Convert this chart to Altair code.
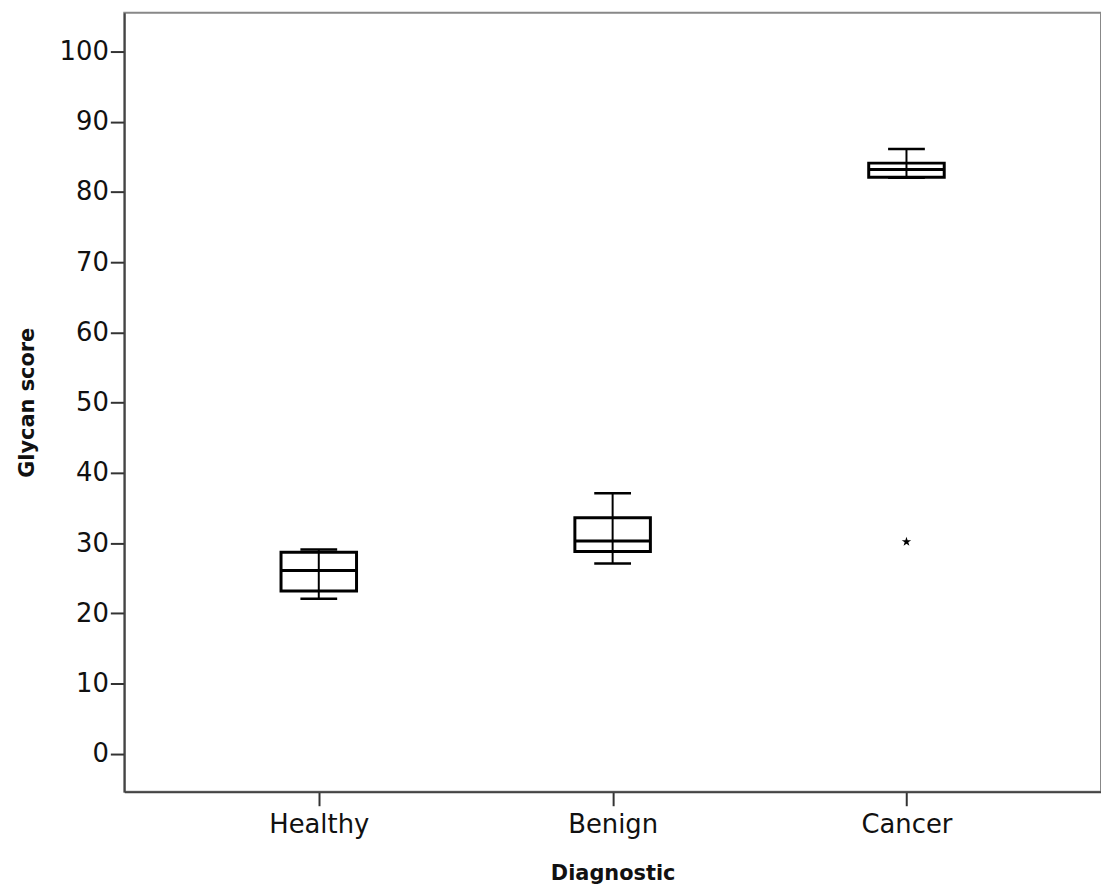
import altair as alt
import pandas as pd

categories = ["Healthy", "Benign", "Cancer"]
whisker_low = [22.1, 27.1, 82.0]
q1 = [23.2, 28.8, 82.1]
median = [26.1, 30.3, 83.2]
q3 = [28.7, 33.6, 84.1]
whisker_high = [29.1, 37.1, 86.1]

outlier_cat = ["Cancer"]
outlier_val = [30.2]

df = pd.DataFrame({
    "Diagnostic": categories,
    "lo": whisker_low,
    "q1": q1,
    "med": median,
    "q3": q3,
    "hi": whisker_high,
})
out = pd.DataFrame({"Diagnostic": outlier_cat, "val": outlier_val})

FONT = "DejaVu Sans"
STAR = ("M0,-1L0.2245,-0.309L0.951,-0.309L0.363,0.118L0.588,0.809L0,0.382"
        "L-0.588,0.809L-0.363,0.118L-0.951,-0.309L-0.2245,-0.309Z")

xscale = alt.Scale(type="point", padding=0.662, domain=categories)
xenc = alt.X(
    "Diagnostic:N",
    scale=xscale,
    axis=alt.Axis(title="Diagnostic", labelAngle=0, tickSize=14, labelPadding=6, titlePadding=25),
)
yscale = alt.Scale(domain=[-5.4, 105.5], nice=False, zero=False)
yaxis = alt.Axis(title="Glycan score", values=list(range(0, 101, 10)), tickSize=14,
                 labelPadding=2, titlePadding=22, grid=False)

base = alt.Chart(df).encode(x=xenc)

whisk = base.mark_rule(color="black", strokeWidth=2).encode(
    y=alt.Y("lo:Q", scale=yscale, axis=yaxis), y2="hi:Q"
)
box = base.mark_bar(size=76, fill="white", fillOpacity=0, stroke="black", strokeWidth=3).encode(
    y=alt.Y("q1:Q"), y2="q3:Q"
)
med = base.mark_tick(size=76, thickness=3, color="black", opacity=1).encode(y="med:Q")
cap_hi = base.mark_tick(size=37, thickness=2.5, color="black", opacity=1).encode(y="hi:Q")
cap_lo = base.mark_tick(size=37, thickness=2.5, color="black", opacity=1).encode(y="lo:Q")

pts = alt.Chart(out).mark_point(shape=STAR, filled=True, color="black", size=100, opacity=1).encode(
    x=alt.X("Diagnostic:N", scale=xscale), y="val:Q"
)

chart = (
    alt.layer(whisk, box, med, cap_hi, cap_lo, pts)
    .properties(
        width=983,
        height=784,
        autosize=alt.AutoSizeParams(type="none"),
        padding={"left": 117, "top": 2, "right": 0, "bottom": 98},
    )
    .configure_view(stroke="#888888", strokeWidth=2)
    .configure_axis(
        labelFont=FONT,
        titleFont=FONT,
        labelFontSize=26,
        titleFontSize=21,
        titleFontWeight="bold",
        labelColor="#111111",
        titleColor="#111111",
        domainColor="#444444",
        domainWidth=2,
        tickColor="#333333",
        tickWidth=2,
    )
)

chart.save("out.html", embed_options={"renderer": "svg", "actions": False})
